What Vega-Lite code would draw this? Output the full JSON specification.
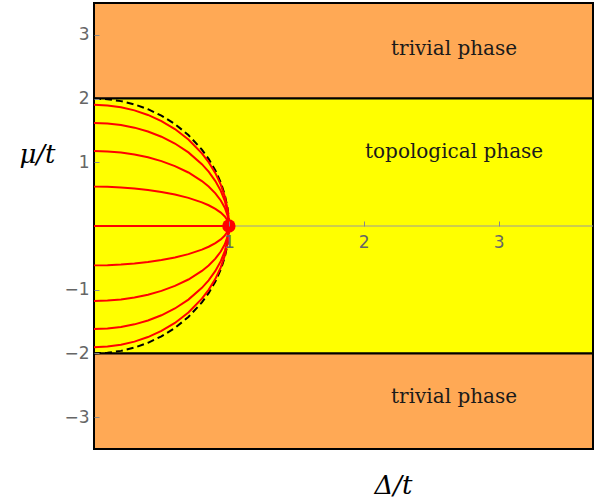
{
  "$schema": "https://vega.github.io/schema/vega-lite/v6.json",
  "width": 499,
  "height": 446,
  "autosize": {"type": "none"},
  "padding": {"left": 94, "top": 3, "right": 23, "bottom": 52},
  "background": "white",
  "config": {"view": {"stroke": "black", "strokeWidth": 2}},
  "datasets": {
    "phases": [
      {"phase": "trivial", "x1": 0, "x2": 3.7, "y1": 2, "y2": 3.5},
      {"phase": "topological", "x1": 0, "x2": 3.7, "y1": -2, "y2": 2},
      {"phase": "trivial", "x1": 0, "x2": 3.7, "y1": -3.5, "y2": -2}
    ],
    "labels": [
      {"label": "trivial phase", "x": 2.67, "y": 2.78},
      {"label": "topological phase", "x": 2.67, "y": 1.16},
      {"label": "trivial phase", "x": 2.67, "y": -2.69}
    ],
    "curves": [
      {"x": 0, "a": 1.902, "b": 1.618, "c": 1.176, "d": 0.618, "e": 0, "f": -0.618, "g": -1.176, "h": -1.618, "i": -1.902, "k": 2, "m": -2},
      {"x": 0.1, "a": 1.8925, "b": 1.6099, "c": 1.1701, "d": 0.6149, "e": 0, "f": -0.6149, "g": -1.1701, "h": -1.6099, "i": -1.8925, "k": 1.99, "m": -1.99},
      {"x": 0.2, "a": 1.8636, "b": 1.5853, "c": 1.1522, "d": 0.6055, "e": 0, "f": -0.6055, "g": -1.1522, "h": -1.5853, "i": -1.8636, "k": 1.96, "m": -1.96},
      {"x": 0.3, "a": 1.8144, "b": 1.5435, "c": 1.1218, "d": 0.5895, "e": 0, "f": -0.5895, "g": -1.1218, "h": -1.5435, "i": -1.8144, "k": 1.908, "m": -1.908},
      {"x": 0.4, "a": 1.7432, "b": 1.4829, "c": 1.0778, "d": 0.5664, "e": 0, "f": -0.5664, "g": -1.0778, "h": -1.4829, "i": -1.7432, "k": 1.833, "m": -1.833},
      {"x": 0.5, "a": 1.6472, "b": 1.4012, "c": 1.0185, "d": 0.5352, "e": 0, "f": -0.5352, "g": -1.0185, "h": -1.4012, "i": -1.6472, "k": 1.732, "m": -1.732},
      {"x": 0.6, "a": 1.5216, "b": 1.2944, "c": 0.9408, "d": 0.4944, "e": 0, "f": -0.4944, "g": -0.9408, "h": -1.2944, "i": -1.5216, "k": 1.6, "m": -1.6},
      {"x": 0.7, "a": 1.3583, "b": 1.1555, "c": 0.8398, "d": 0.4413, "e": 0, "f": -0.4413, "g": -0.8398, "h": -1.1555, "i": -1.3583, "k": 1.428, "m": -1.428},
      {"x": 0.8, "a": 1.1412, "b": 0.9708, "c": 0.7056, "d": 0.3708, "e": 0, "f": -0.3708, "g": -0.7056, "h": -0.9708, "i": -1.1412, "k": 1.2, "m": -1.2},
      {"x": 0.85, "a": 1.0019, "b": 0.8523, "c": 0.6195, "d": 0.3255, "e": 0, "f": -0.3255, "g": -0.6195, "h": -0.8523, "i": -1.0019, "k": 1.054, "m": -1.054},
      {"x": 0.9, "a": 0.8291, "b": 0.7053, "c": 0.5126, "d": 0.2694, "e": 0, "f": -0.2694, "g": -0.5126, "h": -0.7053, "i": -0.8291, "k": 0.872, "m": -0.872},
      {"x": 0.94, "a": 0.6489, "b": 0.552, "c": 0.4012, "d": 0.2108, "e": 0, "f": -0.2108, "g": -0.4012, "h": -0.552, "i": -0.6489, "k": 0.682, "m": -0.682},
      {"x": 0.97, "a": 0.4624, "b": 0.3933, "c": 0.2859, "d": 0.1502, "e": 0, "f": -0.1502, "g": -0.2859, "h": -0.3933, "i": -0.4624, "k": 0.486, "m": -0.486},
      {"x": 0.99, "a": 0.2683, "b": 0.2283, "c": 0.1659, "d": 0.0872, "e": 0, "f": -0.0872, "g": -0.1659, "h": -0.2283, "i": -0.2683, "k": 0.282, "m": -0.282},
      {"x": 0.995, "a": 0.19, "b": 0.1616, "c": 0.1174, "d": 0.0617, "e": 0, "f": -0.0617, "g": -0.1174, "h": -0.1616, "i": -0.19, "k": 0.2, "m": -0.2},
      {"x": 1, "a": 0, "b": 0, "c": 0, "d": 0, "e": 0, "f": 0, "g": 0, "h": 0, "i": 0, "k": 0, "m": 0}
    ],
    "dot": [{"x": 1, "y": 0}],
    "zero": [{"y": 0}]
  },
  "layer": [
    {
      "data": {"name": "phases"},
      "mark": {"type": "rect", "stroke": "black", "strokeWidth": 2},
      "encoding": {
        "x": {
          "field": "x1", "type": "quantitative",
          "scale": {"domain": [0, 3.7], "nice": false, "zero": false},
          "axis": {
            "values": [1, 2, 3], "format": "d", "offset": -223, "domain": false, "grid": false, "zindex": 1,
            "tickColor": "#888888", "tickSize": -5, "tickWidth": 1, "labelPadding": 13,
            "labelColor": "#666666", "labelFont": "DejaVu Sans", "labelFontSize": 17,
            "title": "Δ/t", "titleFont": "DejaVu Serif", "titleFontStyle": "italic", "titleFontWeight": "normal",
            "titleFontSize": 26, "titleColor": "black", "titleX": 299, "titleY": 259,
            "titleAlign": "center", "titleBaseline": "middle", "titleAngle": 0
          }
        },
        "x2": {"field": "x2"},
        "y": {
          "field": "y1", "type": "quantitative",
          "scale": {"domain": [-3.5, 3.5], "nice": false, "zero": false},
          "axis": {
            "values": [-3, -2, -1, 1, 2, 3], "format": "d", "domain": false, "grid": false, "zindex": 1,
            "tickColor": "#888888", "tickSize": -5, "tickWidth": 1, "labelPadding": 10,
            "labelColor": "#666666", "labelFont": "DejaVu Sans", "labelFontSize": 17,
            "title": "μ/t", "titleFont": "DejaVu Serif", "titleFontStyle": "italic", "titleFontWeight": "normal",
            "titleFontSize": 26, "titleColor": "black", "titleX": -57, "titleY": 151,
            "titleAlign": "center", "titleBaseline": "middle", "titleAngle": 0
          }
        },
        "y2": {"field": "y2"},
        "color": {
          "field": "phase", "type": "nominal",
          "scale": {"domain": ["trivial", "topological"], "range": ["#FFA955", "#FFFF00"]},
          "legend": null
        }
      }
    },
    {
      "data": {"name": "zero"},
      "mark": {"type": "rule", "color": "#999999", "strokeWidth": 1.2},
      "encoding": {"y": {"field": "y", "type": "quantitative"}}
    },
    {
      "data": {"name": "curves"},
      "transform": [{"fold": ["k", "m"], "as": ["curve", "yv"]}],
      "mark": {"type": "line", "color": "black", "strokeWidth": 2, "strokeDash": [7, 4]},
      "encoding": {
        "x": {"field": "x", "type": "quantitative"},
        "y": {"field": "yv", "type": "quantitative"},
        "detail": {"field": "curve"}
      }
    },
    {
      "data": {"name": "curves"},
      "transform": [{"fold": ["a", "b", "c", "d", "e", "f", "g", "h", "i"], "as": ["curve", "yv"]}],
      "mark": {"type": "line", "color": "#FF0000", "strokeWidth": 2},
      "encoding": {
        "x": {"field": "x", "type": "quantitative"},
        "y": {"field": "yv", "type": "quantitative"},
        "detail": {"field": "curve"}
      }
    },
    {
      "data": {"name": "dot"},
      "mark": {"type": "circle", "color": "#FF0000", "size": 180, "opacity": 1},
      "encoding": {
        "x": {"field": "x", "type": "quantitative"},
        "y": {"field": "y", "type": "quantitative"}
      }
    },
    {
      "data": {"name": "labels"},
      "mark": {"type": "text", "font": "DejaVu Serif", "fontSize": 20, "color": "#1a1a1a", "align": "center", "baseline": "middle"},
      "encoding": {
        "x": {"field": "x", "type": "quantitative"},
        "y": {"field": "y", "type": "quantitative"},
        "text": {"field": "label"}
      }
    }
  ]
}
